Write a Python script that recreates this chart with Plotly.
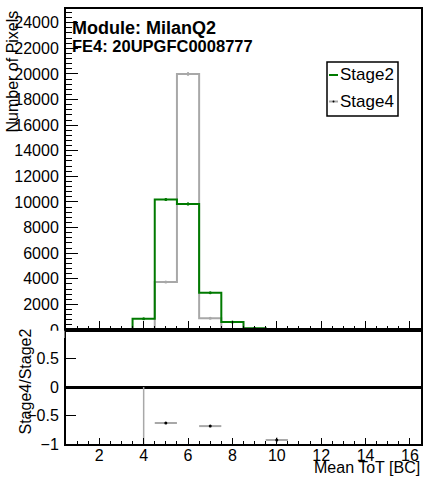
import plotly.graph_objects as go
import math

# ---------------- data ----------------
bin_centers = list(range(1, 17))
stage2 = [0, 0, 0, 880, 10200, 9850, 2900, 620, 130, 25, 0, 0, 0, 0, 0, 0]
stage4 = [0, 0, 0, 0, 3750, 20000, 910, 0, 0, 2, 0, 0, 0, 0, 0, 0]
ratio_bins = [4, 5, 7, 10]
ratio_vals = [-1.05, -0.632, -0.686, -0.93]
ratio_errs = [1.05, 0.012, 0.02, 0.05]
x_tick_vals = [2, 4, 6, 8, 10, 12, 14, 16]
r_tick_vals = [-1, -0.5, 0, 0.5]
r_tick_text = ["\u22121", "\u22120.5", "0", "0.5"]
title_line1 = "Module: MilanQ2"
title_line2 = "FE4: 20UPGFC0008777"

GREEN = "#007a00"
GRAY = "#a8a8a8"
FONT = "Liberation Sans, Arial, sans-serif"

# ---------------- geometry ----------------
W_FIG, H_FIG = 427, 481
L, R, T, B = 66, 421, 9, 444
PW, PH = R - L, B - T
SPLIT = 330  # pixel row dividing the two pads
ratio_top = (B - SPLIT) / PH


def px_x(p):
    return (p - L) / PW


def px_y(p):
    return (B - p) / PH


def step_xy(vals):
    edges = [c - 0.5 for c in bin_centers] + [bin_centers[-1] + 0.5]
    nz = [i for i, v in enumerate(vals) if v > 0]
    f, l = nz[0], nz[-1]
    xs = [edges[f]] + edges[f:l + 2]
    ys = [0] + vals[f:l + 1] + [0]
    return xs, ys


fig = go.Figure()

# histograms (gray first, green on top)
for vals, col, name in [(stage4, GRAY, "Stage4"), (stage2, GREEN, "Stage2")]:
    xs, ys = step_xy(vals)
    fig.add_trace(go.Scatter(x=xs, y=ys, mode="lines", line=dict(color=col, width=2, shape="hv"),
                             xaxis="x", yaxis="y", showlegend=False, hoverinfo="skip"))
    cx = [c for c, v in zip(bin_centers, vals) if v > 0]
    cy = [v for v in vals if v > 0]
    ce = [math.sqrt(v) for v in cy]
    fig.add_trace(go.Scatter(x=cx, y=cy, mode="markers",
                             marker=dict(color=col, size=3),
                             error_y=dict(type="data", array=ce, color=col, thickness=1.5, width=0),
                             xaxis="x", yaxis="y", showlegend=False, hoverinfo="skip"))

# ratio panel
fig.add_trace(go.Scatter(x=ratio_bins, y=ratio_vals, mode="markers",
                         marker=dict(color="black", size=3),
                         error_x=dict(type="constant", value=0.5, color=GRAY, thickness=2, width=0),
                         error_y=dict(type="data", array=ratio_errs, color=GRAY, thickness=1.5, width=0),
                         xaxis="x2", yaxis="y2", showlegend=False, hoverinfo="skip", cliponaxis=True))

axis_font = dict(family=FONT, size=16, color="black")

fig.update_layout(
    width=W_FIG, height=H_FIG,
    margin=dict(l=L, r=W_FIG - R, t=T, b=H_FIG - B, pad=0, autoexpand=False),
    paper_bgcolor="white", plot_bgcolor="white",
    font=dict(family=FONT, size=16, color="black"),
    showlegend=False,
    xaxis=dict(domain=[0, 1], anchor="y", range=[0.5, 16.5], tickvals=x_tick_vals,
               showticklabels=False, ticks="inside", ticklen=9, tickwidth=1, tickcolor="black",
               minor=dict(ticks="inside", ticklen=4, dtick=0.5, tick0=0, tickcolor="black", tickwidth=1),
               showline=True, linewidth=2, linecolor="black", mirror=True,
               showgrid=False, zeroline=False),
    yaxis=dict(domain=[ratio_top, 1], anchor="x", range=[0, 25070], dtick=2000, tick0=0,
               tickformat="d",
               ticks="inside", ticklen=12, tickwidth=1, tickcolor="black",
               minor=dict(ticks="inside", ticklen=6, dtick=400, tick0=0, tickcolor="black", tickwidth=1),
               showline=True, linewidth=2, linecolor="black", mirror=True,
               showgrid=False, zeroline=False, tickfont=axis_font, ticklabelstandoff=2),
    xaxis2=dict(domain=[0, 1], anchor="y2", range=[0.5, 16.5], tickvals=x_tick_vals,
                ticks="inside", ticklen=6, tickwidth=1, tickcolor="black",
                minor=dict(ticks="inside", ticklen=3, dtick=0.5, tick0=0, tickcolor="black", tickwidth=1),
                showline=True, linewidth=2, linecolor="black", mirror=True,
                showgrid=False, zeroline=False, tickfont=axis_font, ticklabelstandoff=-4),
    yaxis2=dict(domain=[0, ratio_top], anchor="x2", range=[-1, 1],
                tickvals=r_tick_vals, ticktext=r_tick_text,
                ticks="inside", ticklen=10, tickwidth=1, tickcolor="black",
                showline=True, linewidth=2, linecolor="black", mirror=True,
                showgrid=False, zeroline=True, zerolinewidth=3, zerolinecolor="black",
                tickfont=axis_font, ticklabelstandoff=2),
)

# cover lower half of the top pad's "0" label (cut by the ratio pad, as in ROOT)
fig.add_shape(type="rect", xref="paper", yref="paper",
              x0=px_x(30), x1=px_x(64.5), y0=px_y(338), y1=px_y(330.8),
              fillcolor="white", line=dict(width=0), layer="above")

# legend (drawn manually to match ROOT TLegend)
fig.add_shape(type="rect", xref="paper", yref="paper",
              x0=px_x(327), x1=px_x(398), y0=px_y(116), y1=px_y(62),
              fillcolor="white", line=dict(color="black", width=1.5), layer="above")
for yy, col, name in [(75, GREEN, "Stage2"), (101.5, GRAY, "Stage4")]:
    fig.add_shape(type="line", xref="paper", yref="paper",
                  x0=px_x(329), x1=px_x(338), y0=px_y(yy), y1=px_y(yy),
                  line=dict(color=col, width=2), layer="above")
    fig.add_annotation(xref="paper", yref="paper", x=px_x(337.5), y=px_y(yy),
                       xanchor="left", yanchor="middle", text=name, showarrow=False,
                       font=dict(family=FONT, size=17, color="black"))
fig.add_shape(type="circle", xref="paper", yref="paper",
              x0=px_x(332.5), x1=px_x(334.5), y0=px_y(102.5), y1=px_y(100.5),
              fillcolor="black", line=dict(width=0), layer="above")

# titles
fig.add_annotation(xref="paper", yref="paper", x=px_x(70), y=px_y(28), xanchor="left", yanchor="middle",
                   text="<b>" + title_line1 + "</b>", showarrow=False,
                   font=dict(family=FONT, size=18, color="black"))
fig.add_annotation(xref="paper", yref="paper", x=px_x(70), y=px_y(46), xanchor="left", yanchor="middle",
                   text="<b>" + title_line2 + "</b>", showarrow=False,
                   font=dict(family=FONT, size=16.5, color="black"))
fig.add_annotation(xref="paper", yref="paper", x=px_x(12.5), y=px_y(72), xanchor="center", yanchor="middle",
                   text="Number of Pixels", textangle=-90, showarrow=False,
                   font=dict(family=FONT, size=16, color="black"))
fig.add_annotation(xref="paper", yref="paper", x=px_x(25), y=px_y(381.5), xanchor="center", yanchor="middle",
                   text="Stage4/Stage2", textangle=-90, showarrow=False,
                   font=dict(family=FONT, size=16, color="black"))
fig.add_annotation(xref="paper", yref="paper", x=px_x(422), y=px_y(467), xanchor="right", yanchor="middle",
                   text="Mean ToT [BC]", showarrow=False,
                   font=dict(family=FONT, size=16, color="black"))

fig.write_html("out.html", config={"displayModeBar": False},
               post_script="document.body.style.margin='0';document.body.style.padding='0';")
